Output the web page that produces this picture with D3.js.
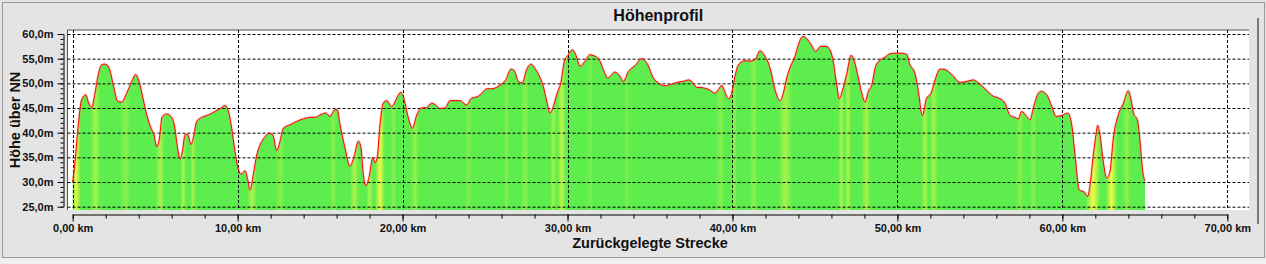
<!DOCTYPE html>
<html>
<head>
<meta charset="utf-8">
<script src="https://cdn.jsdelivr.net/npm/d3@7"></script>
<style>
  body { margin: 0; background: #e4e4e4; }
  svg { display: block; font-family: "Liberation Sans", Arial, sans-serif; }
  .tick text { font-size: 11px; font-weight: bold; fill: #111; }
  .achse path, .achse line { stroke: #000; }
</style>
</head>
<body>
<div id="profil"></div>
<script>
var strecke = [0.0, 0.14, 0.34, 0.54, 0.79, 0.99, 1.15, 1.35, 1.55, 1.76, 1.96, 2.2, 2.46, 2.73, 2.97,
  3.27, 3.58, 3.82, 4.02, 4.28, 4.49, 4.75, 4.93, 5.09, 5.23, 5.43, 5.7, 5.96, 6.16, 6.36, 6.5, 6.65,
  6.81, 6.97, 7.17, 7.31, 7.52, 7.82, 8.22, 8.63, 8.99, 9.23, 9.43, 9.64, 9.84, 10.0, 10.2, 10.45,
  10.61, 10.75, 10.95, 11.16, 11.46, 11.66, 11.92, 12.13, 12.37, 12.57, 12.77, 13.17, 13.58, 13.98,
  14.39, 14.69, 14.99, 15.34, 15.6, 15.9, 16.04, 16.21, 16.51, 16.81, 17.06, 17.32, 17.48, 17.62,
  17.78, 17.98, 18.19, 18.33, 18.47, 18.63, 18.83, 19.04, 19.34, 19.64, 19.89, 20.04, 20.35, 20.59,
  20.86, 21.12, 21.46, 21.77, 21.97, 22.27, 22.57, 22.88, 23.18, 23.48, 23.89, 24.15, 24.59, 24.8,
  25.1, 25.4, 25.71, 26.01, 26.25, 26.57, 26.77, 27.02, 27.26, 27.52, 27.79, 28.03, 28.33, 28.53,
  28.74, 28.94, 29.14, 29.34, 29.61, 29.81, 30.05, 30.29, 30.5, 30.76, 31.06, 31.36, 31.67, 31.97,
  32.17, 32.44, 32.68, 32.88, 33.18, 33.38, 33.69, 34.09, 34.5, 34.86, 35.2, 35.5, 35.91, 36.21,
  36.62, 37.02, 37.32, 37.52, 37.83, 38.23, 38.6, 38.94, 39.14, 39.35, 39.49, 39.75, 39.95, 40.15,
  40.35, 40.76, 41.06, 41.37, 41.67, 41.97, 42.28, 42.58, 42.88, 43.08, 43.29, 43.49, 43.79, 43.99,
  44.26, 44.46, 44.74, 45.05, 45.35, 45.67, 45.91, 46.11, 46.32, 46.48, 46.68, 46.92, 47.19, 47.39,
  47.63, 47.84, 48.04, 48.24, 48.44, 48.68, 48.94, 49.25, 49.55, 49.85, 50.26, 50.56, 50.76, 51.06,
  51.27, 51.51, 51.77, 52.04, 52.28, 52.58, 52.89, 53.29, 53.8, 54.2, 54.6, 54.91, 55.31, 55.81,
  56.22, 56.52, 56.83, 57.13, 57.33, 57.53, 57.84, 58.04, 58.24, 58.54, 58.75, 58.95, 59.05, 59.36,
  59.62, 59.97, 60.33, 60.57, 60.77, 61.03, 61.32, 61.54, 61.68, 61.88, 62.04, 62.14, 62.28, 62.48,
  62.69, 62.89, 63.09, 63.39, 63.7, 64.0, 64.15, 64.31, 64.55, 64.71, 64.87, 65.01];

var hoehe = [30.0, 34.2, 41.6, 46.7, 47.7, 45.8, 45.1, 48.0, 51.8, 53.8, 53.9, 53.2, 49.7, 46.4, 46.2,
  48.0, 50.4, 51.8, 50.4, 46.7, 43.6, 40.9, 39.6, 37.2, 38.3, 43.3, 43.8, 43.3, 41.6, 36.9, 34.7, 36.2,
  39.6, 39.7, 37.6, 38.9, 42.3, 43.1, 43.6, 44.3, 45.0, 45.5, 44.5, 40.9, 36.2, 33.2, 31.6, 32.3,
  30.5, 28.4, 31.5, 35.5, 38.2, 39.2, 39.9, 39.6, 36.4, 38.3, 40.9, 41.6, 42.3, 42.8,
  43.1, 43.1, 43.6, 44.0, 43.3, 44.7, 44.7, 41.6, 36.9, 33.2, 35.2, 38.3, 36.9, 31.5,
  29.3, 31.2, 35.0, 33.9, 35.2, 41.6, 46.0, 46.5, 45.3, 47.0, 48.2, 47.4, 43.0, 40.9,
  43.6, 45.0, 45.1, 46.0, 45.7, 44.9, 45.0, 46.5, 46.5, 46.5, 45.6, 46.9, 47.4, 48.0,
  48.9, 48.9, 49.2, 49.9, 50.7, 52.9, 52.6, 50.4, 50.1, 52.8, 53.9, 53.0, 51.2, 49.4,
  46.4, 44.0, 45.3, 47.7, 50.4, 54.5, 55.8, 56.8, 55.8, 53.5, 54.5, 55.8, 55.5, 54.5,
  52.8, 51.1, 51.8, 52.3, 51.4, 50.4, 52.4, 53.6, 55.0, 53.8, 51.1, 50.1, 49.5, 49.7,
  50.2, 50.4, 50.7, 50.4, 49.2, 49.1, 48.7, 48.0, 48.7, 49.6, 48.7, 46.9, 48.0, 51.4,
  53.7, 54.6, 54.5, 54.8, 56.6, 55.5, 53.1, 48.7, 46.5, 48.0, 51.1, 53.2, 55.5, 57.8,
  59.5, 59.2, 58.0, 56.5, 57.5, 57.5, 56.8, 54.5, 49.7, 46.9, 48.7, 51.8, 55.7, 54.5,
  51.1, 48.0, 46.2, 48.4, 49.6, 53.5, 54.7, 55.3, 56.0, 56.1, 56.1, 55.9, 53.8, 52.1,
  48.4, 43.5, 47.0, 48.0, 50.7, 52.9, 52.8, 51.8, 50.2, 50.4, 50.7, 50.1, 48.9, 47.4,
  46.9, 46.0, 43.5, 43.1, 42.8, 44.3, 43.3, 42.6, 45.0, 48.0, 48.4, 48.0, 47.7, 45.3,
  43.3, 43.5, 44.0, 41.6, 35.5, 28.4, 28.0, 27.1, 29.5, 35.5, 39.6, 41.5, 39.6, 34.2,
  30.8, 32.2, 38.9, 43.6, 46.0, 48.5, 47.0, 44.0, 42.6, 38.3, 32.2, 30.2];

// gelbliche Streifen (Steigung), Lage in km, Breite in km, Staerke 0..1
var streifenKm = [0.2, 1.38, 3.2, 5.3, 6.7, 7.3, 10.87, 12.57, 15.8, 17.08, 18.0, 18.63, 19.45, 20.75,
  24.0, 26.3, 27.42, 29.15, 29.63, 31.36, 33.6, 39.25, 40.1, 41.3, 43.2, 46.6, 47.0, 48.1, 51.67,
  52.2, 57.43, 58.25, 61.86, 62.98, 63.9];
var streifenBreite = [0.6, 0.6, 0.6, 0.5, 0.35, 0.35, 0.6, 0.5, 0.4, 0.6, 0.4, 0.6, 0.4, 0.5,
  0.4, 0.4, 0.5, 0.45, 0.6, 0.4, 0.4, 0.5, 0.4, 0.5, 0.9, 0.4, 0.4, 0.6, 0.45,
  0.45, 0.5, 0.4, 0.9, 0.7, 0.5];
var streifenStaerke = [0.95, 0.5, 0.3, 0.55, 0.55, 0.5, 0.55, 0.3, 0.3, 0.5, 0.55, 1.0, 0.3, 0.4,
  0.25, 0.25, 0.3, 0.45, 0.65, 0.2, 0.2, 0.3, 0.3, 0.3, 0.5, 0.55, 0.55, 0.5, 0.5,
  0.5, 0.3, 0.3, 1.0, 1.0, 0.35];

var xTicks = [0, 10, 20, 30, 40, 50, 60, 70];
var yTicks = [25, 30, 35, 40, 45, 50, 55, 60];

var width = 1266, height = 264;
var plot = { left: 67.5, right: 1249, top: 30, bottom: 210 };

var svg = d3.select("#profil").append("svg")
  .attr("width", width)
  .attr("height", height);

// Rahmen des Fensters
svg.append("rect").attr("x", 0).attr("y", 0).attr("width", width).attr("height", height).attr("fill", "#e4e4e4");
svg.append("rect").attr("x", 0).attr("y", 258).attr("width", width).attr("height", 6).attr("fill", "#f0f0f0");
svg.append("rect").attr("x", 2.5).attr("y", 2.5).attr("width", 1262).attr("height", 255)
  .attr("fill", "none").attr("stroke", "#9a9a9a");
svg.append("line").attr("x1", 1258).attr("x2", 1258).attr("y1", 18).attr("y2", 224)
  .attr("stroke", "#7a7a7a").attr("stroke-width", 2);

var x = d3.scaleLinear().domain([0, 70]).range([72.7, 1227.3]);
var y = d3.scaleLinear().domain([25, 60]).range([206.7, 34]);

// Plotflaeche
svg.append("rect")
  .attr("x", plot.left).attr("y", plot.top)
  .attr("width", plot.right - plot.left).attr("height", plot.bottom - plot.top)
  .attr("fill", "#fff");
svg.append("path")
  .attr("d", "M" + plot.left + "," + plot.bottom + "V" + plot.top + "H" + plot.right)
  .attr("fill", "none").attr("stroke", "#555");

// Farbverlauf fuer die Streifen
var gruen = "#52ec42", gelb = "#f4f83c";
var mix = d3.interpolateRgb(gruen, gelb);
var defs = svg.append("defs");
var grad = defs.append("linearGradient")
  .attr("id", "steigung")
  .attr("gradientUnits", "userSpaceOnUse")
  .attr("x1", x(0)).attr("x2", x(70)).attr("y1", 0).attr("y2", 0);

var stops = [{ o: 0, c: gruen }];
streifenKm.forEach(function (k, i) {
  var w = streifenBreite[i] / 2;
  stops.push({ o: (k - w) / 70, c: gruen });
  stops.push({ o: k / 70, c: mix(streifenStaerke[i]) });
  stops.push({ o: (k + w) / 70, c: gruen });
});
stops.push({ o: 1, c: gruen });
stops.sort(function (a, b) { return a.o - b.o; });
grad.selectAll("stop").data(stops).join("stop")
  .attr("offset", function (d) { return Math.max(0, Math.min(1, d.o)); })
  .attr("stop-color", function (d) { return d.c; });

// feines Raster wie im Original
var muster = defs.append("pattern")
  .attr("id", "raster").attr("patternUnits", "userSpaceOnUse")
  .attr("width", 2).attr("height", 2);
muster.append("rect").attr("width", 1).attr("height", 1).attr("fill", "#fff").attr("fill-opacity", 0.12);
muster.append("rect").attr("x", 1).attr("y", 1).attr("width", 1).attr("height", 1).attr("fill", "#fff").attr("fill-opacity", 0.12);

var punkte = strecke.map(function (k, i) { return [k, hoehe[i]]; });

var flaeche = d3.area()
  .x(function (d) { return x(d[0]); })
  .y0(plot.bottom)
  .y1(function (d) { return y(d[1]); })
  .curve(d3.curveMonotoneX);

svg.append("path").datum(punkte)
  .attr("d", flaeche)
  .attr("fill", "url(#steigung)");
svg.append("path").datum(punkte)
  .attr("d", flaeche)
  .attr("fill", "url(#raster)");

// Gitter
svg.append("g").selectAll("line").data(yTicks).join("line")
  .attr("x1", plot.left).attr("x2", plot.right)
  .attr("y1", function (d) { return y(d) + 0.5; }).attr("y2", function (d) { return y(d) + 0.5; })
  .attr("stroke", "#000").attr("stroke-dasharray", "3,2");
svg.append("g").selectAll("line").data(xTicks).join("line")
  .attr("x1", function (d) { return Math.round(x(d)) + 0.5; }).attr("x2", function (d) { return Math.round(x(d)) + 0.5; })
  .attr("y1", plot.top).attr("y2", plot.bottom)
  .attr("stroke", "#000").attr("stroke-dasharray", "3,2");

// Profillinie
var linie = d3.line()
  .x(function (d) { return x(d[0]); })
  .y(function (d) { return y(d[1]); })
  .curve(d3.curveMonotoneX);
svg.append("path").datum(punkte)
  .attr("d", linie)
  .attr("fill", "none")
  .attr("stroke", "#f66").attr("stroke-opacity", 0.25).attr("stroke-width", 2.6);
svg.append("path").datum(punkte)
  .attr("d", linie)
  .attr("fill", "none")
  .attr("stroke", "#ff0000").attr("stroke-width", 1);

// Achsen
var fmtY = function (d) { return d3.format(".1f")(d).replace(".", ",") + "m"; };
var fmtX = function (d) { return d3.format(".2f")(d).replace(".", ",") + " km"; };

svg.append("g").attr("class", "achse")
  .attr("transform", "translate(63.5,0)")
  .call(d3.axisLeft(y).tickValues(d3.range(25, 61, 1)).tickSize(3).tickSizeOuter(0).tickFormat(""));
svg.append("g").attr("class", "achse")
  .attr("transform", "translate(63.5,0)")
  .call(d3.axisLeft(y).tickValues(yTicks).tickSize(6).tickPadding(4).tickSizeOuter(0).tickFormat(fmtY))
  .select(".domain").remove();

svg.append("g").attr("class", "achse")
  .attr("transform", "translate(0,214.5)")
  .call(d3.axisBottom(x).tickValues(d3.range(0, 71, 2)).tickSize(4).tickSizeOuter(0).tickFormat(""));
svg.append("g").attr("class", "achse")
  .attr("transform", "translate(0,214.5)")
  .call(d3.axisBottom(x).tickValues(xTicks).tickSize(7).tickPadding(3).tickSizeOuter(0).tickFormat(fmtX))
  .select(".domain").remove();

// Titel
svg.append("text")
  .attr("x", (plot.left + plot.right) / 2).attr("y", 21)
  .attr("text-anchor", "middle")
  .style("font-size", "16px").style("font-weight", "bold").attr("fill", "#111")
  .text("Höhenprofil");

svg.append("text")
  .attr("x", 650).attr("y", 248)
  .attr("text-anchor", "middle")
  .style("font-size", "14.5px").style("font-weight", "bold").attr("fill", "#111")
  .text("Zurückgelegte Strecke");

svg.append("text")
  .attr("transform", "translate(20,120)rotate(-90)")
  .attr("text-anchor", "middle")
  .style("font-size", "14.5px").style("font-weight", "bold").attr("fill", "#111")
  .text("Höhe über NN");
</script>
</body>
</html>
